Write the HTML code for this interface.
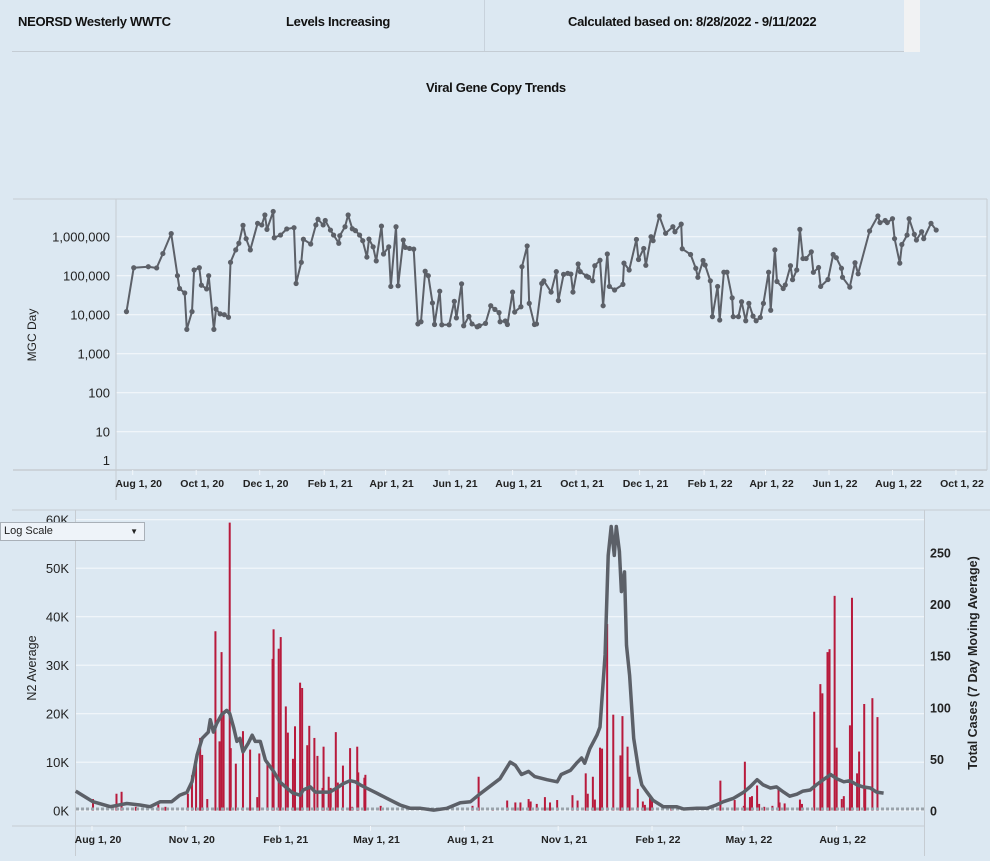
<!DOCTYPE html>
<html><head><meta charset="utf-8">
<style>
html,body{margin:0;padding:0;background:#dce8f2;}
body{width:990px;height:861px;overflow:hidden;position:relative;font-family:"Liberation Sans",Arial,sans-serif;}
.hdr{position:absolute;top:14px;font-weight:bold;font-size:13px;color:#111;letter-spacing:-0.3px;}
</style></head><body>
<div style="position:absolute;left:12px;top:0;width:892px;height:51px;border-bottom:1px solid #c4ccd4;"></div>
<div style="position:absolute;left:484px;top:0;width:1px;height:51px;background:#c8d2dc;"></div>
<div style="position:absolute;left:904px;top:0;width:16px;height:52px;background:#f1f2f3;"></div>
<div class="hdr" style="left:18px">NEORSD Westerly WWTC</div>
<div class="hdr" style="left:286px">Levels Increasing</div>
<div class="hdr" style="left:568px">Calculated based on: 8/28/2022 - 9/11/2022</div>
<div class="hdr" style="left:426px;top:80px">Viral Gene Copy Trends</div>
<div style="position:absolute;left:0;top:522px;width:145px;height:19px;background:#eef3f9;border:1px solid #a9b0b8;box-sizing:border-box;font-size:11px;line-height:17px;padding-left:3px;color:#222;z-index:2">Log Scale<span style="position:absolute;right:6px;top:0;font-size:8px">&#9660;</span></div>
<svg id="svg" width="990" height="861" style="position:absolute;left:0;top:0"></svg>
<script>
// ---- top chart data: day offset from Aug 1 2020, MGC/day ----
const topDays=[-6,1,15,23,29,37,43,45,50,52,57,59,64,66,71,73,78,80,84,88,92,94,99,102,106,109,113,120,124,127,129,135,136,142,148,155,157,162,164,171,176,178,183,185,190,193,198,199,204,207,211,214,218,221,225,227,231,234,239,241,246,248,253,255,260,262,266,270,274,277,281,284,288,290,295,297,304,309,311,316,318,323,326,331,333,339,344,348,352,353,358,360,365,367,373,374,379,381,386,388,393,395,402,407,409,414,418,421,423,428,430,436,438,442,444,449,452,456,458,463,471,472,477,484,486,491,493,498,500,506,512,519,521,527,528,536,541,543,548,550,555,557,562,564,568,571,576,577,582,585,589,592,596,599,603,606,611,613,617,619,625,627,632,634,638,641,644,647,652,654,659,661,668,673,676,681,682,689,694,697,708,716,718,723,725,730,732,737,739,744,746,751,753,758,760,767,772];
const topVals=[12000,160000,170000,158000,370000,1200000,100000,47000,36000,4200,12000,140000,160000,57000,46000,100000,4200,14000,10500,10000,8600,220000,460000,680000,1950000,890000,460000,2200000,2000000,3600000,1540000,4450000,940000,1100000,1580000,1700000,63000,220000,860000,650000,2000000,2800000,2000000,2600000,1480000,1100000,680000,1060000,1800000,3600000,1600000,1430000,1100000,790000,300000,870000,550000,240000,1870000,360000,550000,53000,1800000,55000,820000,530000,500000,480000,5800,6600,130000,100000,20000,5600,40000,5500,5500,22000,8300,62000,5200,9100,5800,4900,5200,6000,17000,13700,11300,6600,6900,5600,38000,11700,16000,170000,580000,19500,5600,5800,63000,74000,38000,127000,23000,108000,115000,110000,38000,200000,127000,98000,91000,74000,180000,250000,17000,360000,53000,43000,60000,210000,140000,850000,260000,500000,185000,1000000,790000,3400000,1220000,1800000,1340000,2100000,490000,350000,155000,91000,245000,188000,74000,8900,53000,7300,123000,123000,27000,8900,8900,21500,7000,19500,9200,7000,8500,19500,123000,13000,460000,71000,47000,58000,180000,79000,140000,1540000,275000,275000,410000,122000,162000,53000,80000,350000,290000,155000,91000,51000,215000,112000,1400000,3400000,2300000,2600000,2300000,2900000,890000,210000,630000,1100000,2900000,1150000,820000,1340000,890000,2200000,1480000];
const topYTicks=[1000000,100000,10000,1000,100,10,1];
const topYLabels=["1,000,000","100,000","10,000","1,000","100","10","1"];
const topXTickDays=[0,61,122,184,243,304,365,426,487,549,608,669,730,791];
const topXLabels=["Aug 1, 20","Oct 1, 20","Dec 1, 20","Feb 1, 21","Apr 1, 21","Jun 1, 21","Aug 1, 21","Oct 1, 21","Dec 1, 21","Feb 1, 22","Apr 1, 22","Jun 1, 22","Aug 1, 22","Oct 1, 22"];
// ---- bottom chart data ----
const barDays=[1,24,29,43,65,72,94,98,102,106,108,113,121,125,127,129,135,136,141,148,155,162,164,172,177,178,183,185,190,192,197,199,204,206,211,213,218,221,226,227,232,234,239,241,246,253,255,260,261,267,268,283,373,379,393,407,415,420,428,430,436,444,449,456,471,476,484,486,491,493,498,500,505,511,518,520,525,527,535,540,542,547,549,568,616,630,639,640,645,647,652,654,659,667,673,674,679,694,696,708,714,716,721,723,728,730,735,737,743,745,750,752,757,758,765,770];
const barVals=[2.4,3.5,3.9,0.8,1.3,0.8,3.5,7.3,10.2,15,11.5,2.4,37,14.3,32.7,20.5,59.4,12.9,9.7,16.4,12.6,2.8,11.8,9.7,31.3,37.4,33.4,35.8,21.5,16.1,10.7,17.4,26.4,25.3,13.5,17.5,15,11.3,4.7,13.2,7,4.7,16.2,5.8,9.3,12.9,0.8,13.2,7.9,6.8,7.4,1,1,7,0.5,2.1,1.7,1.7,2.4,1.9,1.4,2.8,1.7,2.2,3.2,2.1,7.7,3.5,7,2.3,13,12.8,38.5,19.8,11.4,19.5,13.2,7,4.5,1.9,1.2,3.2,2.2,0.8,6.2,2.2,1,10.1,2.8,3,5.2,1.4,0.8,1,4.6,1.7,1.5,2.3,1.4,20.4,26.1,24.2,32.7,33.3,44.3,13,2.4,3,17.6,43.9,7.7,12.2,22,4.5,23.2,19.3];
const caseDays=[-16,1,18,34,47,57,67,78,86,93,98,103,108,114,116,119,122,127,132,135,139,142,145,148,153,157,160,165,170,178,184,191,197,204,207,214,219,225,233,240,246,253,258,263,269,279,289,302,312,322,335,348,361,371,380,400,410,415,421,428,434,446,456,460,469,475,480,483,488,495,498,503,506,509,512,514,517,519,522,524,527,531,536,539,544,550,560,573,580,593,603,612,619,629,639,645,652,658,665,671,678,684,691,697,704,710,717,724,730,737,743,750,756,763,769,776];
const caseVals=[19,8.7,3.9,7,5.5,3.9,8.7,8.7,15,17.7,28,54,70,76,88,76,84,93,97,94,80,67,70,57,65,73,67,67,49,38,28,22,17,15,20,23,18,18,18,22,26,29,28,25,22,17,12,5.5,2.3,2.3,0.6,2.3,7.7,8.7,16,31,47,44,35,38,33,30,28,35,39,46,51,46,60,73,81,151,247,275,247,275,251,212,231,160,131,70,38,25,18,10,3.9,3.9,1.6,2.3,2.3,5.5,8.7,12,18,23,30,25,22,23,18,14,16,19,20,25,30,35,31,28,29,25,23,22,18,17];
const botYTicks=[0,10,20,30,40,50,60];
const botYLabels=["0K","10K","20K","30K","40K","50K","60K"];
const rightTicks=[0,50,100,150,200,250];
const botXTickDays=[0,92,184,273,365,457,549,638,730];
const botXLabels=["Aug 1, 20","Nov 1, 20","Feb 1, 21","May 1, 21","Aug 1, 21","Nov 1, 21","Feb 1, 22","May 1, 22","Aug 1, 22"];

const NS="http://www.w3.org/2000/svg";
const svg=document.getElementById('svg');
function mk(tag,attrs,parent){const e=document.createElementNS(NS,tag);for(const k in attrs)e.setAttribute(k,attrs[k]);(parent||svg).appendChild(e);return e;}
const tx=d=>132.7+d*1.0408;
const ty=v=>236.7+(6-Math.log10(v))*39;
const bx=d=>92+d*1.0201;
const by=k=>810.7-k*4.85;
const ry=c=>810.7-c*1.0336;

// ---- TOP CHART ----
const gT=mk('g',{});


topYTicks.forEach((v,i)=>{
  if(v>1){const l=mk('line',{x1:116,x2:987,y1:ty(v),y2:ty(v),stroke:'#f3f7fb','stroke-width':1.2},gT);
  }
  const t=mk('text',{x:110,y:(v===1?465:ty(v)+5),'text-anchor':'end','font-size':13,fill:'#222'},gT);
  
  t.textContent=topYLabels[i];
});
mk('line',{x1:13,x2:987,y1:199,y2:199,stroke:'#c6ccd2'},gT);
mk('line',{x1:13,x2:987,y1:470,y2:470,stroke:'#c6ccd2','stroke-width':1.5},gT);
mk('line',{x1:116,x2:116,y1:199,y2:500,stroke:'#c6ccd2'},gT);
mk('line',{x1:987,x2:987,y1:199,y2:470,stroke:'#c6ccd2'},gT);
const yt=mk('text',{x:36,y:335,'text-anchor':'middle','font-size':12,fill:'#222',transform:'rotate(-90 36 335)'},gT);
yt.textContent='MGC Day';
topXTickDays.forEach((d,i)=>{
  mk('line',{x1:tx(d),x2:tx(d),y1:470,y2:475,stroke:'#f3f7fb'},gT);
  const t=mk('text',{x:tx(d)+6,y:487,'text-anchor':'middle','font-size':10.5,'font-weight':'bold',fill:'#222'},gT);
  
  t.textContent=topXLabels[i];
});
const tpts=topDays.map((d,i)=>tx(d).toFixed(1)+','+ty(topVals[i]).toFixed(1)).join(' ');
const tl=mk('polyline',{points:tpts,fill:'none',stroke:'#5c6068','stroke-width':2,'stroke-linejoin':'round'},gT);

topDays.forEach((d,i)=>{const c=mk('circle',{cx:tx(d),cy:ty(topVals[i]),r:2.6,fill:'#5c6068'},gT);
  });

// ---- BOTTOM CHART ----
const gB=mk('g',{});


botYTicks.forEach((v,i)=>{
  const l=mk('line',{x1:76,x2:924,y1:by(v),y2:by(v),stroke:'#f3f7fb','stroke-width':1.2},gB);
  
  const t=mk('text',{x:69,y:by(v)+5,'text-anchor':'end','font-size':13,fill:'#222'},gB);
  
  t.textContent=botYLabels[i];
});
rightTicks.forEach(v=>{
  const t=mk('text',{x:930,y:ry(v)+5,'font-size':12.5,'font-weight':'bold',fill:'#222'},gB);
  
  t.textContent=v;
});
mk('line',{x1:12,x2:990,y1:510,y2:510,stroke:'#c6ccd2'},gB);
mk('line',{x1:12,x2:924,y1:826,y2:826,stroke:'#c6ccd2'},gB);
mk('line',{x1:75.5,x2:75.5,y1:510,y2:856,stroke:'#c6ccd2'},gB);
mk('line',{x1:924.5,x2:924.5,y1:510,y2:856,stroke:'#c6ccd2'},gB);
const lt=mk('text',{x:36,y:668,'text-anchor':'middle','font-size':12.5,fill:'#222',transform:'rotate(-90 36 668)'},gB);
lt.textContent='N2 Average';
const rt=mk('text',{x:977,y:663,'text-anchor':'middle','font-size':12.5,'font-weight':'bold',fill:'#222',transform:'rotate(-90 977 663)'},gB);
rt.textContent='Total Cases (7 Day Moving Average)';
botXTickDays.forEach((d,i)=>{
  mk('line',{x1:bx(d),x2:bx(d),y1:826,y2:831,stroke:'#f3f7fb'},gB);
  const t=mk('text',{x:bx(d)+6,y:843,'text-anchor':'middle','font-size':10.5,'font-weight':'bold',fill:'#222'},gB);
  
  t.textContent=botXLabels[i];
});
barDays.forEach((d,i)=>{
  const y=by(barVals[i]);
  const r=mk('rect',{x:bx(d)-1,y:y,width:2,height:810.7-y,fill:'#b81a3c'},gB);
  
});
const zl=mk('line',{x1:76,x2:924,y1:809,y2:809,stroke:'#9aa3ab','stroke-width':3,'stroke-dasharray':'3,2'},gB);

const cpts=caseDays.map((d,i)=>bx(d).toFixed(1)+','+ry(caseVals[i]).toFixed(1)).join(' ');
const cl=mk('polyline',{points:cpts,fill:'none',stroke:'#5c6068','stroke-width':3.5,'stroke-linejoin':'round'},gB);

</script>
</body></html>
